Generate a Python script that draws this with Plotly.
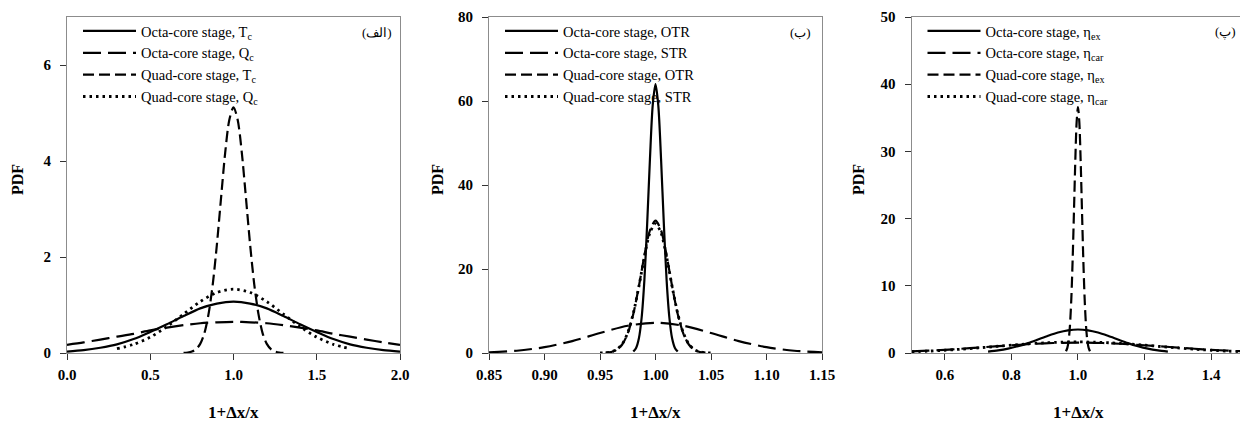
import plotly.graph_objects as go

# ---------------- Panel (الف) ----------------
p1_x = [0.0, 0.1, 0.2, 0.3, 0.4, 0.5, 0.6, 0.7, 0.8, 0.9, 1.0, 1.1, 1.2, 1.3, 1.4, 1.5, 1.6, 1.7, 1.8, 1.9, 2.0]
p1_octa_tc = [0.03, 0.06, 0.11, 0.18, 0.29, 0.44, 0.60, 0.77, 0.93, 1.03, 1.07, 1.03, 0.93, 0.77, 0.60, 0.44, 0.29, 0.18, 0.11, 0.06, 0.03]
p1_octa_qc = [0.17, 0.22, 0.28, 0.34, 0.40, 0.47, 0.53, 0.58, 0.62, 0.64, 0.65, 0.64, 0.62, 0.58, 0.53, 0.47, 0.40, 0.34, 0.28, 0.22, 0.17]
p1_quad_tc_x = [0.700, 0.725, 0.750, 0.775, 0.800, 0.825, 0.850, 0.875, 0.900, 0.925, 0.950, 0.975, 1.000,
                1.025, 1.050, 1.075, 1.100, 1.125, 1.150, 1.175, 1.200, 1.225, 1.250, 1.275, 1.300]
p1_quad_tc = [0.003, 0.01, 0.03, 0.08, 0.19, 0.41, 0.81, 1.42, 2.25, 3.22, 4.17, 4.86, 5.12,
              4.86, 4.17, 3.22, 2.25, 1.42, 0.81, 0.41, 0.19, 0.08, 0.03, 0.01, 0.003]
p1_quad_qc_x = [0.3, 0.4, 0.5, 0.6, 0.7, 0.8, 0.9, 1.0, 1.1, 1.2, 1.3, 1.4, 1.5, 1.6, 1.7]
p1_quad_qc = [0.09, 0.18, 0.33, 0.55, 0.81, 1.07, 1.26, 1.33, 1.26, 1.07, 0.81, 0.55, 0.33, 0.18, 0.09]

# ---------------- Panel (ب) ----------------
p2_octa_otr_x = [0.9800, 0.9825, 0.9850, 0.9875, 0.9900, 0.9925, 0.9950, 0.9975, 1.0000,
                 1.0025, 1.0050, 1.0075, 1.0100, 1.0125, 1.0150, 1.0175, 1.0200]
p2_octa_otr = [0.35, 1.19, 3.43, 8.39, 17.4, 30.8, 46.2, 59.0, 64.0,
               59.0, 46.2, 30.8, 17.4, 8.39, 3.43, 1.19, 0.35]
p2_octa_str_x = [0.850, 0.875, 0.900, 0.925, 0.950, 0.975, 1.000, 1.025, 1.050, 1.075, 1.100, 1.125, 1.150]
p2_octa_str = [0.17, 0.54, 1.38, 2.84, 4.76, 6.49, 7.20, 6.49, 4.76, 2.84, 1.38, 0.54, 0.17]
p2_quad_otr_x = [0.955, 0.960, 0.965, 0.970, 0.975, 0.980, 0.985, 0.990, 0.995, 1.000,
                 1.005, 1.010, 1.015, 1.020, 1.025, 1.030, 1.035, 1.040, 1.045]
p2_quad_otr = [0.07, 0.24, 0.75, 2.02, 4.68, 9.30, 15.85, 23.2, 29.2, 31.5,
               29.2, 23.2, 15.85, 9.30, 4.68, 2.02, 0.75, 0.24, 0.07]
p2_quad_str_x = [0.950, 0.955, 0.960, 0.965, 0.970, 0.975, 0.980, 0.985, 0.990, 0.995, 1.000,
                 1.005, 1.010, 1.015, 1.020, 1.025, 1.030, 1.035, 1.040, 1.045, 1.050]
p2_quad_str = [0.02, 0.08, 0.27, 0.82, 2.15, 4.85, 9.44, 15.8, 22.9, 28.6, 30.8,
               28.6, 22.9, 15.8, 9.44, 4.85, 2.15, 0.82, 0.27, 0.08, 0.02]

# ---------------- Panel (پ) ----------------
p3_octa_ex_x = [0.73, 0.76, 0.79, 0.82, 0.85, 0.88, 0.91, 0.94, 0.97, 1.00,
                1.03, 1.06, 1.09, 1.12, 1.15, 1.18, 1.21, 1.24, 1.27]
p3_octa_ex = [0.21, 0.38, 0.64, 1.01, 1.47, 2.01, 2.56, 3.05, 3.38, 3.50,
              3.38, 3.05, 2.56, 2.01, 1.47, 1.01, 0.64, 0.38, 0.21]
p3_wide_x = [0.50, 0.55, 0.60, 0.65, 0.70, 0.75, 0.80, 0.85, 0.90, 0.95, 1.00,
             1.05, 1.10, 1.15, 1.20, 1.25, 1.30, 1.35, 1.40, 1.45, 1.50]
p3_octa_car = [0.24, 0.35, 0.47, 0.63, 0.80, 0.98, 1.15, 1.31, 1.44, 1.52, 1.55,
               1.52, 1.44, 1.31, 1.15, 0.98, 0.80, 0.63, 0.47, 0.35, 0.24]
p3_quad_ex_x = [0.964, 0.968, 0.972, 0.976, 0.980, 0.984, 0.988, 0.992, 0.996, 1.000,
                1.004, 1.008, 1.012, 1.016, 1.020, 1.024, 1.028, 1.032, 1.036]
p3_quad_ex = [0.27, 0.76, 1.89, 4.15, 8.07, 13.9, 21.2, 28.7, 34.4, 36.6,
              34.4, 28.7, 21.2, 13.9, 8.07, 4.15, 1.89, 0.76, 0.27]
p3_quad_car = [0.19, 0.28, 0.41, 0.57, 0.76, 0.96, 1.17, 1.36, 1.51, 1.61, 1.65,
               1.61, 1.51, 1.36, 1.17, 0.96, 0.76, 0.57, 0.41, 0.28, 0.19]

legend_names = {
    1: ["Octa-core stage, T<sub>c</sub>", "Octa-core stage, Q<sub>c</sub>",
        "Quad-core stage, T<sub>c</sub>", "Quad-core stage, Q<sub>c</sub>"],
    2: ["Octa-core stage, OTR", "Octa-core stage, STR",
        "Quad-core stage, OTR", "Quad-core stage, STR"],
    3: ["Octa-core stage, η<sub>ex</sub>", "Octa-core stage, η<sub>car</sub>",
        "Quad-core stage, η<sub>ex</sub>", "Quad-core stage, η<sub>car</sub>"],
}
panel_tags = ["(الف)", "(ب)", "(پ)"]

SERIF = "Liberation Serif, Times New Roman, Tinos, Times, DejaVu Serif, serif"
styles = [
    dict(dash="solid", width=2.2),
    dict(dash="18px,7px", width=2.2),
    dict(dash="11px,5px", width=2.2),
    dict(dash="2.5px,4px", width=2.8),
]

series = {
    1: [(p1_x, p1_octa_tc), (p1_x, p1_octa_qc), (p1_quad_tc_x, p1_quad_tc), (p1_quad_qc_x, p1_quad_qc)],
    2: [(p2_octa_otr_x, p2_octa_otr), (p2_octa_str_x, p2_octa_str), (p2_quad_otr_x, p2_quad_otr), (p2_quad_str_x, p2_quad_str)],
    3: [(p3_octa_ex_x, p3_octa_ex), (p3_wide_x, p3_octa_car), (p3_quad_ex_x, p3_quad_ex), (p3_wide_x, p3_quad_car)],
}

fig = go.Figure()
W, H = 1240, 421
for p in (1, 2, 3):
    sfx = "" if p == 1 else str(p)
    for i, (xs, ys) in enumerate(series[p]):
        fig.add_trace(go.Scatter(
            x=xs, y=ys, mode="lines", name=legend_names[p][i],
            line=dict(color="black", shape="spline", smoothing=0.8, **styles[i]),
            xaxis="x" + sfx, yaxis="y" + sfx, legend="legend" + sfx,
            hoverinfo="skip",
        ))

xdom = {1: [67 / W, 400 / W], 2: [489 / W, 822 / W], 3: [911.5 / W, 1.0]}
ydom = [(H - 353) / H, (H - 17) / H]
xr = {1: [0, 2], 2: [0.85, 1.15], 3: [0.5, 1.4866]}
xdt = {1: 0.5, 2: 0.05, 3: 0.2}
xfmt = {1: ".1f", 2: ".2f", 3: ".1f"}
yr = {1: [0, 7], 2: [0, 80], 3: [0, 50]}
ydt = {1: 2, 2: 20, 3: 10}

tickfont = dict(family=SERIF, size=15, color="black", weight="bold")
layout = dict(
    width=W, height=H, margin=dict(l=0, r=0, t=0, b=0, autoexpand=False),
    paper_bgcolor="white", plot_bgcolor="white", showlegend=True,
)
for p in (1, 2, 3):
    sfx = "" if p == 1 else str(p)
    layout["xaxis" + sfx] = dict(
        domain=xdom[p], range=xr[p], dtick=xdt[p], tick0=0, tickformat=xfmt[p],
        showgrid=False, zeroline=False, showline=True, linecolor="#8c8c8c", linewidth=1,
        mirror=True, ticks="outside", ticklen=6, tickcolor="#333333", tickfont=tickfont,
        ticklabelstandoff=2, anchor="y" + sfx, automargin=False,
    )
    layout["yaxis" + sfx] = dict(
        domain=ydom, range=yr[p], dtick=ydt[p], tick0=0,
        showgrid=False, zeroline=False, showline=True, linecolor="#8c8c8c", linewidth=1,
        mirror=(p != 3), ticks="outside", ticklen=6, tickcolor="#333333", tickfont=tickfont,
        ticklabelstandoff=6, anchor="x" + sfx, automargin=False,
    )
    layout["legend" + sfx] = dict(
        x=xdom[p][0] + 11 / W, y=(H - 15) / H, xanchor="left", yanchor="top",
        bgcolor="rgba(0,0,0,0)", borderwidth=0, itemwidth=53,
        font=dict(family=SERIF, size=14.5, color="black"),
    )

fig.update_layout(**layout)

ann = []
pdf_x = {1: 17, 2: 437, 3: 858}
tag_x = {1: 394, 2: 813, 3: 1238}
for p in (1, 2, 3):
    ann.append(dict(text="<b>1+Δx/x</b>", xref="paper", yref="paper",
                    x=(xdom[p][0] + (xdom[p][0] + 333 / W)) / 2, y=-3 / H,
                    xanchor="center", yanchor="bottom", showarrow=False,
                    font=dict(family=SERIF, size=17, color="black")))
    ann.append(dict(text="<b>PDF</b>", xref="paper", yref="paper",
                    x=pdf_x[p] / W, y=(H - 180) / H, textangle=-90,
                    xanchor="center", yanchor="middle", showarrow=False,
                    font=dict(family=SERIF, size=16, color="black")))
    ann.append(dict(text=panel_tags[p - 1], xref="paper", yref="paper",
                    x=tag_x[p] / W, y=(H - 32) / H, xanchor="right", yanchor="middle",
                    showarrow=False, font=dict(family=SERIF, size=13, color="black")))
fig.update_layout(annotations=ann)

fig.write_html("out.html")
